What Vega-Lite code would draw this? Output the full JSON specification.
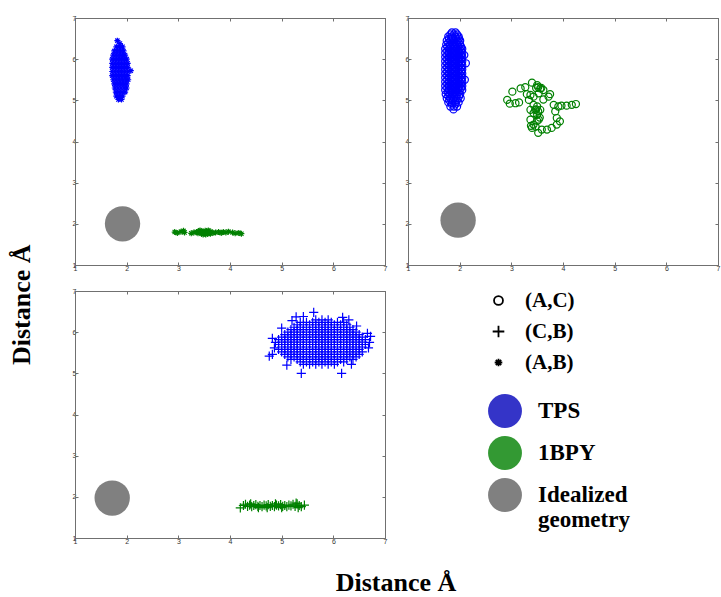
{
"$schema":"https://vega.github.io/schema/vega-lite/v6.json",
"padding":{"left":8,"top":13,"right":0,"bottom":0},
"background":"white",
"title":{"text":"Distance Å","orient":"left","anchor":"middle","font":"Liberation Serif","fontSize":26,"fontWeight":"bold","color":"black","offset":37},
"data":{"values":[
{"p":"(A,B)","g":"Ideal","x":1.92,"y":2.0},
{"p":"(A,C)","g":"Ideal","x":1.97,"y":2.09},
{"p":"(C,B)","g":"Ideal","x":1.72,"y":1.97},
{"p":"(A,B)","g":"TPS","x":1.82,"y":6.45},{"p":"(A,B)","g":"TPS","x":1.87,"y":6.38},
{"p":"(A,B)","g":"TPS","x":1.80,"y":6.3},{"p":"(A,B)","g":"TPS","x":1.86,"y":6.3},{"p":"(A,B)","g":"TPS","x":1.92,"y":6.3},
{"p":"(A,B)","g":"TPS","x":1.76,"y":6.2},{"p":"(A,B)","g":"TPS","x":1.82,"y":6.2},{"p":"(A,B)","g":"TPS","x":1.88,"y":6.2},{"p":"(A,B)","g":"TPS","x":1.94,"y":6.2},
{"p":"(A,B)","g":"TPS","x":1.74,"y":6.1},{"p":"(A,B)","g":"TPS","x":1.80,"y":6.1},{"p":"(A,B)","g":"TPS","x":1.86,"y":6.1},{"p":"(A,B)","g":"TPS","x":1.92,"y":6.1},{"p":"(A,B)","g":"TPS","x":1.97,"y":6.1},
{"p":"(A,B)","g":"TPS","x":1.72,"y":6.0},{"p":"(A,B)","g":"TPS","x":1.78,"y":6.0},{"p":"(A,B)","g":"TPS","x":1.84,"y":6.0},{"p":"(A,B)","g":"TPS","x":1.90,"y":6.0},{"p":"(A,B)","g":"TPS","x":1.96,"y":6.0},{"p":"(A,B)","g":"TPS","x":2.00,"y":6.0},
{"p":"(A,B)","g":"TPS","x":1.72,"y":5.9},{"p":"(A,B)","g":"TPS","x":1.78,"y":5.9},{"p":"(A,B)","g":"TPS","x":1.84,"y":5.9},{"p":"(A,B)","g":"TPS","x":1.90,"y":5.9},{"p":"(A,B)","g":"TPS","x":1.96,"y":5.9},{"p":"(A,B)","g":"TPS","x":2.02,"y":5.9},
{"p":"(A,B)","g":"TPS","x":1.72,"y":5.8},{"p":"(A,B)","g":"TPS","x":1.78,"y":5.8},{"p":"(A,B)","g":"TPS","x":1.84,"y":5.8},{"p":"(A,B)","g":"TPS","x":1.90,"y":5.8},{"p":"(A,B)","g":"TPS","x":1.96,"y":5.8},{"p":"(A,B)","g":"TPS","x":2.02,"y":5.8},
{"p":"(A,B)","g":"TPS","x":1.72,"y":5.7},{"p":"(A,B)","g":"TPS","x":1.78,"y":5.7},{"p":"(A,B)","g":"TPS","x":1.84,"y":5.7},{"p":"(A,B)","g":"TPS","x":1.90,"y":5.7},{"p":"(A,B)","g":"TPS","x":1.96,"y":5.7},{"p":"(A,B)","g":"TPS","x":2.02,"y":5.7},{"p":"(A,B)","g":"TPS","x":2.08,"y":5.72},
{"p":"(A,B)","g":"TPS","x":1.72,"y":5.6},{"p":"(A,B)","g":"TPS","x":1.78,"y":5.6},{"p":"(A,B)","g":"TPS","x":1.84,"y":5.6},{"p":"(A,B)","g":"TPS","x":1.90,"y":5.6},{"p":"(A,B)","g":"TPS","x":1.96,"y":5.6},{"p":"(A,B)","g":"TPS","x":2.02,"y":5.6},
{"p":"(A,B)","g":"TPS","x":1.74,"y":5.5},{"p":"(A,B)","g":"TPS","x":1.80,"y":5.5},{"p":"(A,B)","g":"TPS","x":1.86,"y":5.5},{"p":"(A,B)","g":"TPS","x":1.92,"y":5.5},{"p":"(A,B)","g":"TPS","x":1.98,"y":5.5},{"p":"(A,B)","g":"TPS","x":2.03,"y":5.5},
{"p":"(A,B)","g":"TPS","x":1.76,"y":5.4},{"p":"(A,B)","g":"TPS","x":1.82,"y":5.4},{"p":"(A,B)","g":"TPS","x":1.88,"y":5.4},{"p":"(A,B)","g":"TPS","x":1.94,"y":5.4},{"p":"(A,B)","g":"TPS","x":2.00,"y":5.4},
{"p":"(A,B)","g":"TPS","x":1.77,"y":5.3},{"p":"(A,B)","g":"TPS","x":1.83,"y":5.3},{"p":"(A,B)","g":"TPS","x":1.89,"y":5.3},{"p":"(A,B)","g":"TPS","x":1.95,"y":5.3},{"p":"(A,B)","g":"TPS","x":2.00,"y":5.3},
{"p":"(A,B)","g":"TPS","x":1.79,"y":5.2},{"p":"(A,B)","g":"TPS","x":1.85,"y":5.2},{"p":"(A,B)","g":"TPS","x":1.91,"y":5.2},{"p":"(A,B)","g":"TPS","x":1.97,"y":5.2},
{"p":"(A,B)","g":"TPS","x":1.80,"y":5.1},{"p":"(A,B)","g":"TPS","x":1.86,"y":5.1},{"p":"(A,B)","g":"TPS","x":1.92,"y":5.1},
{"p":"(A,B)","g":"TPS","x":1.84,"y":5.02},{"p":"(A,B)","g":"TPS","x":1.90,"y":5.02},
{"p":"(A,B)","g":"1BPY","x":2.93,"y":1.80},{"p":"(A,B)","g":"1BPY","x":2.98,"y":1.78},{"p":"(A,B)","g":"1BPY","x":3.05,"y":1.81},{"p":"(A,B)","g":"1BPY","x":3.10,"y":1.83},{"p":"(A,B)","g":"1BPY","x":3.12,"y":1.79},
{"p":"(A,B)","g":"1BPY","x":3.25,"y":1.77},{"p":"(A,B)","g":"1BPY","x":3.30,"y":1.79},{"p":"(A,B)","g":"1BPY","x":3.35,"y":1.80},{"p":"(A,B)","g":"1BPY","x":3.38,"y":1.77},{"p":"(A,B)","g":"1BPY","x":3.40,"y":1.82},
{"p":"(A,B)","g":"1BPY","x":3.43,"y":1.79},{"p":"(A,B)","g":"1BPY","x":3.45,"y":1.76},{"p":"(A,B)","g":"1BPY","x":3.47,"y":1.81},{"p":"(A,B)","g":"1BPY","x":3.50,"y":1.78},{"p":"(A,B)","g":"1BPY","x":3.52,"y":1.83},
{"p":"(A,B)","g":"1BPY","x":3.55,"y":1.80},{"p":"(A,B)","g":"1BPY","x":3.57,"y":1.76},{"p":"(A,B)","g":"1BPY","x":3.60,"y":1.79},{"p":"(A,B)","g":"1BPY","x":3.63,"y":1.81},{"p":"(A,B)","g":"1BPY","x":3.67,"y":1.78},
{"p":"(A,B)","g":"1BPY","x":3.72,"y":1.79},{"p":"(A,B)","g":"1BPY","x":3.78,"y":1.80},{"p":"(A,B)","g":"1BPY","x":3.83,"y":1.78},{"p":"(A,B)","g":"1BPY","x":3.87,"y":1.80},{"p":"(A,B)","g":"1BPY","x":3.92,"y":1.79},
{"p":"(A,B)","g":"1BPY","x":3.97,"y":1.81},{"p":"(A,B)","g":"1BPY","x":4.05,"y":1.79},{"p":"(A,B)","g":"1BPY","x":4.10,"y":1.77},{"p":"(A,B)","g":"1BPY","x":4.17,"y":1.78},{"p":"(A,B)","g":"1BPY","x":4.22,"y":1.76},
{"p":"(A,B)","g":"1BPY","x":3.48,"y":1.74},{"p":"(A,B)","g":"1BPY","x":3.53,"y":1.74},{"p":"(A,B)","g":"1BPY","x":3.42,"y":1.84},{"p":"(A,B)","g":"1BPY","x":3.58,"y":1.84},{"p":"(A,B)","g":"1BPY","x":3.62,"y":1.76},
{"p":"(A,C)","g":"TPS","x":1.85,"y":6.65},{"p":"(A,C)","g":"TPS","x":1.92,"y":6.65},
{"p":"(A,C)","g":"TPS","x":1.78,"y":6.55},{"p":"(A,C)","g":"TPS","x":1.85,"y":6.55},{"p":"(A,C)","g":"TPS","x":1.92,"y":6.55},{"p":"(A,C)","g":"TPS","x":1.98,"y":6.55},
{"p":"(A,C)","g":"TPS","x":1.75,"y":6.45},{"p":"(A,C)","g":"TPS","x":1.82,"y":6.45},{"p":"(A,C)","g":"TPS","x":1.89,"y":6.45},{"p":"(A,C)","g":"TPS","x":1.96,"y":6.45},{"p":"(A,C)","g":"TPS","x":2.01,"y":6.45},
{"p":"(A,C)","g":"TPS","x":1.74,"y":6.35},{"p":"(A,C)","g":"TPS","x":1.81,"y":6.35},{"p":"(A,C)","g":"TPS","x":1.88,"y":6.35},{"p":"(A,C)","g":"TPS","x":1.95,"y":6.35},{"p":"(A,C)","g":"TPS","x":2.01,"y":6.35},
{"p":"(A,C)","g":"TPS","x":1.72,"y":6.25},{"p":"(A,C)","g":"TPS","x":1.79,"y":6.25},{"p":"(A,C)","g":"TPS","x":1.86,"y":6.25},{"p":"(A,C)","g":"TPS","x":1.93,"y":6.25},{"p":"(A,C)","g":"TPS","x":2.00,"y":6.25},{"p":"(A,C)","g":"TPS","x":2.05,"y":6.25},
{"p":"(A,C)","g":"TPS","x":1.72,"y":6.15},{"p":"(A,C)","g":"TPS","x":1.79,"y":6.15},{"p":"(A,C)","g":"TPS","x":1.86,"y":6.15},{"p":"(A,C)","g":"TPS","x":1.93,"y":6.15},{"p":"(A,C)","g":"TPS","x":2.00,"y":6.15},{"p":"(A,C)","g":"TPS","x":2.05,"y":6.15},
{"p":"(A,C)","g":"TPS","x":1.72,"y":6.05},{"p":"(A,C)","g":"TPS","x":1.79,"y":6.05},{"p":"(A,C)","g":"TPS","x":1.86,"y":6.05},{"p":"(A,C)","g":"TPS","x":1.93,"y":6.05},{"p":"(A,C)","g":"TPS","x":2.00,"y":6.05},{"p":"(A,C)","g":"TPS","x":2.05,"y":6.05},
{"p":"(A,C)","g":"TPS","x":1.72,"y":5.95},{"p":"(A,C)","g":"TPS","x":1.79,"y":5.95},{"p":"(A,C)","g":"TPS","x":1.86,"y":5.95},{"p":"(A,C)","g":"TPS","x":1.93,"y":5.95},{"p":"(A,C)","g":"TPS","x":2.00,"y":5.95},{"p":"(A,C)","g":"TPS","x":2.05,"y":5.95},
{"p":"(A,C)","g":"TPS","x":1.72,"y":5.85},{"p":"(A,C)","g":"TPS","x":1.79,"y":5.85},{"p":"(A,C)","g":"TPS","x":1.86,"y":5.85},{"p":"(A,C)","g":"TPS","x":1.93,"y":5.85},{"p":"(A,C)","g":"TPS","x":2.00,"y":5.85},{"p":"(A,C)","g":"TPS","x":2.05,"y":5.85},
{"p":"(A,C)","g":"TPS","x":1.72,"y":5.75},{"p":"(A,C)","g":"TPS","x":1.79,"y":5.75},{"p":"(A,C)","g":"TPS","x":1.86,"y":5.75},{"p":"(A,C)","g":"TPS","x":1.93,"y":5.75},{"p":"(A,C)","g":"TPS","x":2.00,"y":5.75},{"p":"(A,C)","g":"TPS","x":2.05,"y":5.75},
{"p":"(A,C)","g":"TPS","x":1.72,"y":5.65},{"p":"(A,C)","g":"TPS","x":1.79,"y":5.65},{"p":"(A,C)","g":"TPS","x":1.86,"y":5.65},{"p":"(A,C)","g":"TPS","x":1.93,"y":5.65},{"p":"(A,C)","g":"TPS","x":2.00,"y":5.65},{"p":"(A,C)","g":"TPS","x":2.05,"y":5.65},
{"p":"(A,C)","g":"TPS","x":1.72,"y":5.55},{"p":"(A,C)","g":"TPS","x":1.79,"y":5.55},{"p":"(A,C)","g":"TPS","x":1.86,"y":5.55},{"p":"(A,C)","g":"TPS","x":1.93,"y":5.55},{"p":"(A,C)","g":"TPS","x":2.00,"y":5.55},{"p":"(A,C)","g":"TPS","x":2.05,"y":5.55},
{"p":"(A,C)","g":"TPS","x":1.72,"y":5.45},{"p":"(A,C)","g":"TPS","x":1.79,"y":5.45},{"p":"(A,C)","g":"TPS","x":1.86,"y":5.45},{"p":"(A,C)","g":"TPS","x":1.93,"y":5.45},{"p":"(A,C)","g":"TPS","x":2.00,"y":5.45},{"p":"(A,C)","g":"TPS","x":2.05,"y":5.45},
{"p":"(A,C)","g":"TPS","x":1.72,"y":5.35},{"p":"(A,C)","g":"TPS","x":1.79,"y":5.35},{"p":"(A,C)","g":"TPS","x":1.86,"y":5.35},{"p":"(A,C)","g":"TPS","x":1.93,"y":5.35},{"p":"(A,C)","g":"TPS","x":2.00,"y":5.35},{"p":"(A,C)","g":"TPS","x":2.05,"y":5.35},
{"p":"(A,C)","g":"TPS","x":1.72,"y":5.25},{"p":"(A,C)","g":"TPS","x":1.79,"y":5.25},{"p":"(A,C)","g":"TPS","x":1.86,"y":5.25},{"p":"(A,C)","g":"TPS","x":1.93,"y":5.25},{"p":"(A,C)","g":"TPS","x":2.00,"y":5.25},{"p":"(A,C)","g":"TPS","x":2.05,"y":5.25},
{"p":"(A,C)","g":"TPS","x":1.73,"y":5.15},{"p":"(A,C)","g":"TPS","x":1.80,"y":5.15},{"p":"(A,C)","g":"TPS","x":1.87,"y":5.15},{"p":"(A,C)","g":"TPS","x":1.94,"y":5.15},{"p":"(A,C)","g":"TPS","x":2.01,"y":5.15},
{"p":"(A,C)","g":"TPS","x":1.75,"y":5.05},{"p":"(A,C)","g":"TPS","x":1.82,"y":5.05},{"p":"(A,C)","g":"TPS","x":1.89,"y":5.05},{"p":"(A,C)","g":"TPS","x":1.96,"y":5.05},{"p":"(A,C)","g":"TPS","x":2.02,"y":5.05},
{"p":"(A,C)","g":"TPS","x":1.78,"y":4.95},{"p":"(A,C)","g":"TPS","x":1.85,"y":4.95},{"p":"(A,C)","g":"TPS","x":1.92,"y":4.95},{"p":"(A,C)","g":"TPS","x":1.98,"y":4.95},
{"p":"(A,C)","g":"TPS","x":1.82,"y":4.85},{"p":"(A,C)","g":"TPS","x":1.89,"y":4.85},{"p":"(A,C)","g":"TPS","x":1.95,"y":4.85},
{"p":"(A,C)","g":"TPS","x":1.88,"y":4.78},{"p":"(A,C)","g":"TPS","x":2.10,"y":5.5},{"p":"(A,C)","g":"TPS","x":2.12,"y":5.9},{"p":"(A,C)","g":"TPS","x":2.09,"y":6.1},
{"p":"(A,C)","g":"TPS","x":1.82,"y":6.6},{"p":"(A,C)","g":"TPS","x":1.89,"y":6.6},{"p":"(A,C)","g":"TPS","x":1.95,"y":6.6},
{"p":"(A,C)","g":"TPS","x":1.79,"y":6.5},{"p":"(A,C)","g":"TPS","x":1.86,"y":6.5},{"p":"(A,C)","g":"TPS","x":1.93,"y":6.5},{"p":"(A,C)","g":"TPS","x":1.99,"y":6.5},
{"p":"(A,C)","g":"TPS","x":1.78,"y":6.4},{"p":"(A,C)","g":"TPS","x":1.85,"y":6.4},{"p":"(A,C)","g":"TPS","x":1.92,"y":6.4},{"p":"(A,C)","g":"TPS","x":1.98,"y":6.4},
{"p":"(A,C)","g":"TPS","x":1.76,"y":6.3},{"p":"(A,C)","g":"TPS","x":1.83,"y":6.3},{"p":"(A,C)","g":"TPS","x":1.90,"y":6.3},{"p":"(A,C)","g":"TPS","x":1.97,"y":6.3},{"p":"(A,C)","g":"TPS","x":2.03,"y":6.3},
{"p":"(A,C)","g":"TPS","x":1.76,"y":6.2},{"p":"(A,C)","g":"TPS","x":1.83,"y":6.2},{"p":"(A,C)","g":"TPS","x":1.90,"y":6.2},{"p":"(A,C)","g":"TPS","x":1.97,"y":6.2},{"p":"(A,C)","g":"TPS","x":2.03,"y":6.2},
{"p":"(A,C)","g":"TPS","x":1.76,"y":6.1},{"p":"(A,C)","g":"TPS","x":1.83,"y":6.1},{"p":"(A,C)","g":"TPS","x":1.90,"y":6.1},{"p":"(A,C)","g":"TPS","x":1.97,"y":6.1},{"p":"(A,C)","g":"TPS","x":2.03,"y":6.1},
{"p":"(A,C)","g":"TPS","x":1.76,"y":6.0},{"p":"(A,C)","g":"TPS","x":1.83,"y":6.0},{"p":"(A,C)","g":"TPS","x":1.90,"y":6.0},{"p":"(A,C)","g":"TPS","x":1.97,"y":6.0},{"p":"(A,C)","g":"TPS","x":2.03,"y":6.0},
{"p":"(A,C)","g":"TPS","x":1.76,"y":5.9},{"p":"(A,C)","g":"TPS","x":1.83,"y":5.9},{"p":"(A,C)","g":"TPS","x":1.90,"y":5.9},{"p":"(A,C)","g":"TPS","x":1.97,"y":5.9},{"p":"(A,C)","g":"TPS","x":2.03,"y":5.9},
{"p":"(A,C)","g":"TPS","x":1.76,"y":5.8},{"p":"(A,C)","g":"TPS","x":1.83,"y":5.8},{"p":"(A,C)","g":"TPS","x":1.90,"y":5.8},{"p":"(A,C)","g":"TPS","x":1.97,"y":5.8},{"p":"(A,C)","g":"TPS","x":2.03,"y":5.8},
{"p":"(A,C)","g":"TPS","x":1.76,"y":5.7},{"p":"(A,C)","g":"TPS","x":1.83,"y":5.7},{"p":"(A,C)","g":"TPS","x":1.90,"y":5.7},{"p":"(A,C)","g":"TPS","x":1.97,"y":5.7},{"p":"(A,C)","g":"TPS","x":2.03,"y":5.7},
{"p":"(A,C)","g":"TPS","x":1.76,"y":5.6},{"p":"(A,C)","g":"TPS","x":1.83,"y":5.6},{"p":"(A,C)","g":"TPS","x":1.90,"y":5.6},{"p":"(A,C)","g":"TPS","x":1.97,"y":5.6},{"p":"(A,C)","g":"TPS","x":2.03,"y":5.6},
{"p":"(A,C)","g":"TPS","x":1.76,"y":5.5},{"p":"(A,C)","g":"TPS","x":1.83,"y":5.5},{"p":"(A,C)","g":"TPS","x":1.90,"y":5.5},{"p":"(A,C)","g":"TPS","x":1.97,"y":5.5},{"p":"(A,C)","g":"TPS","x":2.03,"y":5.5},
{"p":"(A,C)","g":"TPS","x":1.76,"y":5.4},{"p":"(A,C)","g":"TPS","x":1.83,"y":5.4},{"p":"(A,C)","g":"TPS","x":1.90,"y":5.4},{"p":"(A,C)","g":"TPS","x":1.97,"y":5.4},{"p":"(A,C)","g":"TPS","x":2.03,"y":5.4},
{"p":"(A,C)","g":"TPS","x":1.76,"y":5.3},{"p":"(A,C)","g":"TPS","x":1.83,"y":5.3},{"p":"(A,C)","g":"TPS","x":1.90,"y":5.3},{"p":"(A,C)","g":"TPS","x":1.97,"y":5.3},{"p":"(A,C)","g":"TPS","x":2.03,"y":5.3},
{"p":"(A,C)","g":"TPS","x":1.77,"y":5.2},{"p":"(A,C)","g":"TPS","x":1.84,"y":5.2},{"p":"(A,C)","g":"TPS","x":1.91,"y":5.2},{"p":"(A,C)","g":"TPS","x":1.98,"y":5.2},
{"p":"(A,C)","g":"TPS","x":1.78,"y":5.1},{"p":"(A,C)","g":"TPS","x":1.85,"y":5.1},{"p":"(A,C)","g":"TPS","x":1.92,"y":5.1},{"p":"(A,C)","g":"TPS","x":1.99,"y":5.1},
{"p":"(A,C)","g":"TPS","x":1.80,"y":5.0},{"p":"(A,C)","g":"TPS","x":1.87,"y":5.0},{"p":"(A,C)","g":"TPS","x":1.94,"y":5.0},
{"p":"(A,C)","g":"TPS","x":1.85,"y":4.9},{"p":"(A,C)","g":"TPS","x":1.92,"y":4.9},
{"p":"(A,C)","g":"1BPY","x":2.92,"y":5.01},{"p":"(A,C)","g":"1BPY","x":2.97,"y":4.92},{"p":"(A,C)","g":"1BPY","x":3.02,"y":5.21},{"p":"(A,C)","g":"1BPY","x":3.08,"y":4.93},{"p":"(A,C)","g":"1BPY","x":3.15,"y":4.95},
{"p":"(A,C)","g":"1BPY","x":3.18,"y":5.29},{"p":"(A,C)","g":"1BPY","x":3.27,"y":5.32},{"p":"(A,C)","g":"1BPY","x":3.40,"y":5.43},{"p":"(A,C)","g":"1BPY","x":3.50,"y":5.37},{"p":"(A,C)","g":"1BPY","x":3.56,"y":5.29},
{"p":"(A,C)","g":"1BPY","x":3.62,"y":5.25},{"p":"(A,C)","g":"1BPY","x":3.48,"y":5.30},{"p":"(A,C)","g":"1BPY","x":3.52,"y":5.32},{"p":"(A,C)","g":"1BPY","x":3.58,"y":5.30},{"p":"(A,C)","g":"1BPY","x":3.53,"y":5.17},
{"p":"(A,C)","g":"1BPY","x":3.43,"y":5.09},{"p":"(A,C)","g":"1BPY","x":3.37,"y":5.13},{"p":"(A,C)","g":"1BPY","x":3.34,"y":5.01},{"p":"(A,C)","g":"1BPY","x":3.43,"y":4.89},{"p":"(A,C)","g":"1BPY","x":3.50,"y":4.85},
{"p":"(A,C)","g":"1BPY","x":3.46,"y":4.77},{"p":"(A,C)","g":"1BPY","x":3.37,"y":4.77},{"p":"(A,C)","g":"1BPY","x":3.56,"y":4.77},{"p":"(A,C)","g":"1BPY","x":3.48,"y":4.78},{"p":"(A,C)","g":"1BPY","x":3.52,"y":4.73},
{"p":"(A,C)","g":"1BPY","x":3.50,"y":4.65},{"p":"(A,C)","g":"1BPY","x":3.43,"y":4.69},{"p":"(A,C)","g":"1BPY","x":3.37,"y":4.53},{"p":"(A,C)","g":"1BPY","x":3.53,"y":4.53},{"p":"(A,C)","g":"1BPY","x":3.50,"y":4.50},
{"p":"(A,C)","g":"1BPY","x":3.55,"y":4.58},{"p":"(A,C)","g":"1BPY","x":3.43,"y":4.41},{"p":"(A,C)","g":"1BPY","x":3.40,"y":4.33},{"p":"(A,C)","g":"1BPY","x":3.38,"y":4.38},{"p":"(A,C)","g":"1BPY","x":3.47,"y":4.36},
{"p":"(A,C)","g":"1BPY","x":3.52,"y":4.21},{"p":"(A,C)","g":"1BPY","x":3.59,"y":4.29},{"p":"(A,C)","g":"1BPY","x":3.69,"y":4.29},{"p":"(A,C)","g":"1BPY","x":3.78,"y":4.33},{"p":"(A,C)","g":"1BPY","x":3.88,"y":4.41},
{"p":"(A,C)","g":"1BPY","x":3.94,"y":4.49},{"p":"(A,C)","g":"1BPY","x":3.88,"y":4.57},{"p":"(A,C)","g":"1BPY","x":3.85,"y":4.73},{"p":"(A,C)","g":"1BPY","x":3.82,"y":4.89},{"p":"(A,C)","g":"1BPY","x":3.91,"y":4.85},
{"p":"(A,C)","g":"1BPY","x":3.97,"y":4.87},{"p":"(A,C)","g":"1BPY","x":4.07,"y":4.87},{"p":"(A,C)","g":"1BPY","x":4.17,"y":4.89},{"p":"(A,C)","g":"1BPY","x":4.25,"y":4.91},{"p":"(A,C)","g":"1BPY","x":3.72,"y":5.09},
{"p":"(A,C)","g":"1BPY","x":3.75,"y":5.15},{"p":"(A,C)","g":"1BPY","x":3.30,"y":5.15},{"p":"(A,C)","g":"1BPY","x":3.62,"y":5.02},
{"p":"(C,B)","g":"TPS","x":5.42,"y":5.22},{"p":"(C,B)","g":"TPS","x":5.54,"y":5.22},{"p":"(C,B)","g":"TPS","x":5.66,"y":5.22},{"p":"(C,B)","g":"TPS","x":5.78,"y":5.22},{"p":"(C,B)","g":"TPS","x":5.90,"y":5.22},{"p":"(C,B)","g":"TPS","x":6.02,"y":5.22},
{"p":"(C,B)","g":"TPS","x":5.36,"y":5.28},{"p":"(C,B)","g":"TPS","x":5.48,"y":5.28},{"p":"(C,B)","g":"TPS","x":5.60,"y":5.28},{"p":"(C,B)","g":"TPS","x":5.72,"y":5.28},{"p":"(C,B)","g":"TPS","x":5.84,"y":5.28},{"p":"(C,B)","g":"TPS","x":5.96,"y":5.28},{"p":"(C,B)","g":"TPS","x":6.08,"y":5.28},{"p":"(C,B)","g":"TPS","x":6.20,"y":5.28},
{"p":"(C,B)","g":"TPS","x":5.18,"y":5.34},{"p":"(C,B)","g":"TPS","x":5.30,"y":5.34},{"p":"(C,B)","g":"TPS","x":5.42,"y":5.34},{"p":"(C,B)","g":"TPS","x":5.54,"y":5.34},{"p":"(C,B)","g":"TPS","x":5.66,"y":5.34},{"p":"(C,B)","g":"TPS","x":5.78,"y":5.34},{"p":"(C,B)","g":"TPS","x":5.90,"y":5.34},{"p":"(C,B)","g":"TPS","x":6.02,"y":5.34},{"p":"(C,B)","g":"TPS","x":6.14,"y":5.34},{"p":"(C,B)","g":"TPS","x":6.26,"y":5.34},{"p":"(C,B)","g":"TPS","x":6.38,"y":5.34},
{"p":"(C,B)","g":"TPS","x":5.12,"y":5.40},{"p":"(C,B)","g":"TPS","x":5.24,"y":5.40},{"p":"(C,B)","g":"TPS","x":5.36,"y":5.40},{"p":"(C,B)","g":"TPS","x":5.48,"y":5.40},{"p":"(C,B)","g":"TPS","x":5.60,"y":5.40},{"p":"(C,B)","g":"TPS","x":5.72,"y":5.40},{"p":"(C,B)","g":"TPS","x":5.84,"y":5.40},{"p":"(C,B)","g":"TPS","x":5.96,"y":5.40},{"p":"(C,B)","g":"TPS","x":6.08,"y":5.40},{"p":"(C,B)","g":"TPS","x":6.20,"y":5.40},{"p":"(C,B)","g":"TPS","x":6.32,"y":5.40},{"p":"(C,B)","g":"TPS","x":6.44,"y":5.40},
{"p":"(C,B)","g":"TPS","x":5.06,"y":5.46},{"p":"(C,B)","g":"TPS","x":5.18,"y":5.46},{"p":"(C,B)","g":"TPS","x":5.30,"y":5.46},{"p":"(C,B)","g":"TPS","x":5.42,"y":5.46},{"p":"(C,B)","g":"TPS","x":5.54,"y":5.46},{"p":"(C,B)","g":"TPS","x":5.66,"y":5.46},{"p":"(C,B)","g":"TPS","x":5.78,"y":5.46},{"p":"(C,B)","g":"TPS","x":5.90,"y":5.46},{"p":"(C,B)","g":"TPS","x":6.02,"y":5.46},{"p":"(C,B)","g":"TPS","x":6.14,"y":5.46},{"p":"(C,B)","g":"TPS","x":6.26,"y":5.46},{"p":"(C,B)","g":"TPS","x":6.38,"y":5.46},{"p":"(C,B)","g":"TPS","x":6.50,"y":5.46},
{"p":"(C,B)","g":"TPS","x":5.00,"y":5.52},{"p":"(C,B)","g":"TPS","x":5.12,"y":5.52},{"p":"(C,B)","g":"TPS","x":5.24,"y":5.52},{"p":"(C,B)","g":"TPS","x":5.36,"y":5.52},{"p":"(C,B)","g":"TPS","x":5.48,"y":5.52},{"p":"(C,B)","g":"TPS","x":5.60,"y":5.52},{"p":"(C,B)","g":"TPS","x":5.72,"y":5.52},{"p":"(C,B)","g":"TPS","x":5.84,"y":5.52},{"p":"(C,B)","g":"TPS","x":5.96,"y":5.52},{"p":"(C,B)","g":"TPS","x":6.08,"y":5.52},{"p":"(C,B)","g":"TPS","x":6.20,"y":5.52},{"p":"(C,B)","g":"TPS","x":6.32,"y":5.52},{"p":"(C,B)","g":"TPS","x":6.44,"y":5.52},{"p":"(C,B)","g":"TPS","x":6.56,"y":5.52},
{"p":"(C,B)","g":"TPS","x":4.94,"y":5.58},{"p":"(C,B)","g":"TPS","x":5.06,"y":5.58},{"p":"(C,B)","g":"TPS","x":5.18,"y":5.58},{"p":"(C,B)","g":"TPS","x":5.30,"y":5.58},{"p":"(C,B)","g":"TPS","x":5.42,"y":5.58},{"p":"(C,B)","g":"TPS","x":5.54,"y":5.58},{"p":"(C,B)","g":"TPS","x":5.66,"y":5.58},{"p":"(C,B)","g":"TPS","x":5.78,"y":5.58},{"p":"(C,B)","g":"TPS","x":5.90,"y":5.58},{"p":"(C,B)","g":"TPS","x":6.02,"y":5.58},{"p":"(C,B)","g":"TPS","x":6.14,"y":5.58},{"p":"(C,B)","g":"TPS","x":6.26,"y":5.58},{"p":"(C,B)","g":"TPS","x":6.38,"y":5.58},{"p":"(C,B)","g":"TPS","x":6.50,"y":5.58},
{"p":"(C,B)","g":"TPS","x":5.00,"y":5.64},{"p":"(C,B)","g":"TPS","x":5.12,"y":5.64},{"p":"(C,B)","g":"TPS","x":5.24,"y":5.64},{"p":"(C,B)","g":"TPS","x":5.36,"y":5.64},{"p":"(C,B)","g":"TPS","x":5.48,"y":5.64},{"p":"(C,B)","g":"TPS","x":5.60,"y":5.64},{"p":"(C,B)","g":"TPS","x":5.72,"y":5.64},{"p":"(C,B)","g":"TPS","x":5.84,"y":5.64},{"p":"(C,B)","g":"TPS","x":5.96,"y":5.64},{"p":"(C,B)","g":"TPS","x":6.08,"y":5.64},{"p":"(C,B)","g":"TPS","x":6.20,"y":5.64},{"p":"(C,B)","g":"TPS","x":6.32,"y":5.64},{"p":"(C,B)","g":"TPS","x":6.44,"y":5.64},{"p":"(C,B)","g":"TPS","x":6.56,"y":5.64},
{"p":"(C,B)","g":"TPS","x":4.94,"y":5.70},{"p":"(C,B)","g":"TPS","x":5.06,"y":5.70},{"p":"(C,B)","g":"TPS","x":5.18,"y":5.70},{"p":"(C,B)","g":"TPS","x":5.30,"y":5.70},{"p":"(C,B)","g":"TPS","x":5.42,"y":5.70},{"p":"(C,B)","g":"TPS","x":5.54,"y":5.70},{"p":"(C,B)","g":"TPS","x":5.66,"y":5.70},{"p":"(C,B)","g":"TPS","x":5.78,"y":5.70},{"p":"(C,B)","g":"TPS","x":5.90,"y":5.70},{"p":"(C,B)","g":"TPS","x":6.02,"y":5.70},{"p":"(C,B)","g":"TPS","x":6.14,"y":5.70},{"p":"(C,B)","g":"TPS","x":6.26,"y":5.70},{"p":"(C,B)","g":"TPS","x":6.38,"y":5.70},{"p":"(C,B)","g":"TPS","x":6.50,"y":5.70},{"p":"(C,B)","g":"TPS","x":6.62,"y":5.70},
{"p":"(C,B)","g":"TPS","x":5.00,"y":5.76},{"p":"(C,B)","g":"TPS","x":5.12,"y":5.76},{"p":"(C,B)","g":"TPS","x":5.24,"y":5.76},{"p":"(C,B)","g":"TPS","x":5.36,"y":5.76},{"p":"(C,B)","g":"TPS","x":5.48,"y":5.76},{"p":"(C,B)","g":"TPS","x":5.60,"y":5.76},{"p":"(C,B)","g":"TPS","x":5.72,"y":5.76},{"p":"(C,B)","g":"TPS","x":5.84,"y":5.76},{"p":"(C,B)","g":"TPS","x":5.96,"y":5.76},{"p":"(C,B)","g":"TPS","x":6.08,"y":5.76},{"p":"(C,B)","g":"TPS","x":6.20,"y":5.76},{"p":"(C,B)","g":"TPS","x":6.32,"y":5.76},{"p":"(C,B)","g":"TPS","x":6.44,"y":5.76},{"p":"(C,B)","g":"TPS","x":6.56,"y":5.76},
{"p":"(C,B)","g":"TPS","x":4.94,"y":5.82},{"p":"(C,B)","g":"TPS","x":5.06,"y":5.82},{"p":"(C,B)","g":"TPS","x":5.18,"y":5.82},{"p":"(C,B)","g":"TPS","x":5.30,"y":5.82},{"p":"(C,B)","g":"TPS","x":5.42,"y":5.82},{"p":"(C,B)","g":"TPS","x":5.54,"y":5.82},{"p":"(C,B)","g":"TPS","x":5.66,"y":5.82},{"p":"(C,B)","g":"TPS","x":5.78,"y":5.82},{"p":"(C,B)","g":"TPS","x":5.90,"y":5.82},{"p":"(C,B)","g":"TPS","x":6.02,"y":5.82},{"p":"(C,B)","g":"TPS","x":6.14,"y":5.82},{"p":"(C,B)","g":"TPS","x":6.26,"y":5.82},{"p":"(C,B)","g":"TPS","x":6.38,"y":5.82},{"p":"(C,B)","g":"TPS","x":6.50,"y":5.82},{"p":"(C,B)","g":"TPS","x":6.62,"y":5.82},
{"p":"(C,B)","g":"TPS","x":5.00,"y":5.88},{"p":"(C,B)","g":"TPS","x":5.12,"y":5.88},{"p":"(C,B)","g":"TPS","x":5.24,"y":5.88},{"p":"(C,B)","g":"TPS","x":5.36,"y":5.88},{"p":"(C,B)","g":"TPS","x":5.48,"y":5.88},{"p":"(C,B)","g":"TPS","x":5.60,"y":5.88},{"p":"(C,B)","g":"TPS","x":5.72,"y":5.88},{"p":"(C,B)","g":"TPS","x":5.84,"y":5.88},{"p":"(C,B)","g":"TPS","x":5.96,"y":5.88},{"p":"(C,B)","g":"TPS","x":6.08,"y":5.88},{"p":"(C,B)","g":"TPS","x":6.20,"y":5.88},{"p":"(C,B)","g":"TPS","x":6.32,"y":5.88},{"p":"(C,B)","g":"TPS","x":6.44,"y":5.88},{"p":"(C,B)","g":"TPS","x":6.56,"y":5.88},
{"p":"(C,B)","g":"TPS","x":5.06,"y":5.94},{"p":"(C,B)","g":"TPS","x":5.18,"y":5.94},{"p":"(C,B)","g":"TPS","x":5.30,"y":5.94},{"p":"(C,B)","g":"TPS","x":5.42,"y":5.94},{"p":"(C,B)","g":"TPS","x":5.54,"y":5.94},{"p":"(C,B)","g":"TPS","x":5.66,"y":5.94},{"p":"(C,B)","g":"TPS","x":5.78,"y":5.94},{"p":"(C,B)","g":"TPS","x":5.90,"y":5.94},{"p":"(C,B)","g":"TPS","x":6.02,"y":5.94},{"p":"(C,B)","g":"TPS","x":6.14,"y":5.94},{"p":"(C,B)","g":"TPS","x":6.26,"y":5.94},{"p":"(C,B)","g":"TPS","x":6.38,"y":5.94},{"p":"(C,B)","g":"TPS","x":6.50,"y":5.94},
{"p":"(C,B)","g":"TPS","x":5.12,"y":6.00},{"p":"(C,B)","g":"TPS","x":5.24,"y":6.00},{"p":"(C,B)","g":"TPS","x":5.36,"y":6.00},{"p":"(C,B)","g":"TPS","x":5.48,"y":6.00},{"p":"(C,B)","g":"TPS","x":5.60,"y":6.00},{"p":"(C,B)","g":"TPS","x":5.72,"y":6.00},{"p":"(C,B)","g":"TPS","x":5.84,"y":6.00},{"p":"(C,B)","g":"TPS","x":5.96,"y":6.00},{"p":"(C,B)","g":"TPS","x":6.08,"y":6.00},{"p":"(C,B)","g":"TPS","x":6.20,"y":6.00},{"p":"(C,B)","g":"TPS","x":6.32,"y":6.00},{"p":"(C,B)","g":"TPS","x":6.44,"y":6.00},
{"p":"(C,B)","g":"TPS","x":5.18,"y":6.06},{"p":"(C,B)","g":"TPS","x":5.30,"y":6.06},{"p":"(C,B)","g":"TPS","x":5.42,"y":6.06},{"p":"(C,B)","g":"TPS","x":5.54,"y":6.06},{"p":"(C,B)","g":"TPS","x":5.66,"y":6.06},{"p":"(C,B)","g":"TPS","x":5.78,"y":6.06},{"p":"(C,B)","g":"TPS","x":5.90,"y":6.06},{"p":"(C,B)","g":"TPS","x":6.02,"y":6.06},{"p":"(C,B)","g":"TPS","x":6.14,"y":6.06},{"p":"(C,B)","g":"TPS","x":6.26,"y":6.06},{"p":"(C,B)","g":"TPS","x":6.38,"y":6.06},
{"p":"(C,B)","g":"TPS","x":5.24,"y":6.12},{"p":"(C,B)","g":"TPS","x":5.36,"y":6.12},{"p":"(C,B)","g":"TPS","x":5.48,"y":6.12},{"p":"(C,B)","g":"TPS","x":5.60,"y":6.12},{"p":"(C,B)","g":"TPS","x":5.72,"y":6.12},{"p":"(C,B)","g":"TPS","x":5.84,"y":6.12},{"p":"(C,B)","g":"TPS","x":5.96,"y":6.12},{"p":"(C,B)","g":"TPS","x":6.08,"y":6.12},{"p":"(C,B)","g":"TPS","x":6.20,"y":6.12},{"p":"(C,B)","g":"TPS","x":6.32,"y":6.12},
{"p":"(C,B)","g":"TPS","x":5.30,"y":6.18},{"p":"(C,B)","g":"TPS","x":5.42,"y":6.18},{"p":"(C,B)","g":"TPS","x":5.54,"y":6.18},{"p":"(C,B)","g":"TPS","x":5.66,"y":6.18},{"p":"(C,B)","g":"TPS","x":5.78,"y":6.18},{"p":"(C,B)","g":"TPS","x":5.90,"y":6.18},{"p":"(C,B)","g":"TPS","x":6.02,"y":6.18},{"p":"(C,B)","g":"TPS","x":6.14,"y":6.18},{"p":"(C,B)","g":"TPS","x":6.26,"y":6.18},
{"p":"(C,B)","g":"TPS","x":5.36,"y":6.24},{"p":"(C,B)","g":"TPS","x":5.48,"y":6.24},{"p":"(C,B)","g":"TPS","x":5.60,"y":6.24},{"p":"(C,B)","g":"TPS","x":5.72,"y":6.24},{"p":"(C,B)","g":"TPS","x":5.84,"y":6.24},{"p":"(C,B)","g":"TPS","x":5.96,"y":6.24},{"p":"(C,B)","g":"TPS","x":6.08,"y":6.24},{"p":"(C,B)","g":"TPS","x":6.20,"y":6.24},
{"p":"(C,B)","g":"TPS","x":5.66,"y":6.30},{"p":"(C,B)","g":"TPS","x":5.78,"y":6.30},{"p":"(C,B)","g":"TPS","x":5.90,"y":6.30},
{"p":"(C,B)","g":"TPS","x":4.76,"y":5.42},{"p":"(C,B)","g":"TPS","x":4.82,"y":5.46},{"p":"(C,B)","g":"TPS","x":4.86,"y":5.62},{"p":"(C,B)","g":"TPS","x":4.82,"y":5.85},{"p":"(C,B)","g":"TPS","x":4.88,"y":5.75},
{"p":"(C,B)","g":"TPS","x":6.72,"y":5.90},{"p":"(C,B)","g":"TPS","x":6.66,"y":5.97},{"p":"(C,B)","g":"TPS","x":6.70,"y":5.75},{"p":"(C,B)","g":"TPS","x":6.68,"y":5.62},{"p":"(C,B)","g":"TPS","x":5.28,"y":6.37},
{"p":"(C,B)","g":"TPS","x":5.42,"y":6.38},{"p":"(C,B)","g":"TPS","x":5.62,"y":6.48},{"p":"(C,B)","g":"TPS","x":6.18,"y":6.36},{"p":"(C,B)","g":"TPS","x":5.38,"y":5.0},{"p":"(C,B)","g":"TPS","x":6.16,"y":5.0},
{"p":"(C,B)","g":"TPS","x":5.10,"y":5.2},{"p":"(C,B)","g":"TPS","x":6.35,"y":5.22},{"p":"(C,B)","g":"TPS","x":5.00,"y":6.1},{"p":"(C,B)","g":"TPS","x":6.45,"y":6.15},{"p":"(C,B)","g":"TPS","x":5.20,"y":6.28},{"p":"(C,B)","g":"TPS","x":6.30,"y":6.3},
{"p":"(C,B)","g":"1BPY","x":4.20,"y":1.73},{"p":"(C,B)","g":"1BPY","x":4.26,"y":1.79},{"p":"(C,B)","g":"1BPY","x":4.30,"y":1.82},{"p":"(C,B)","g":"1BPY","x":4.34,"y":1.77},{"p":"(C,B)","g":"1BPY","x":4.38,"y":1.80},
{"p":"(C,B)","g":"1BPY","x":4.42,"y":1.76},{"p":"(C,B)","g":"1BPY","x":4.46,"y":1.79},{"p":"(C,B)","g":"1BPY","x":4.50,"y":1.81},{"p":"(C,B)","g":"1BPY","x":4.54,"y":1.77},{"p":"(C,B)","g":"1BPY","x":4.58,"y":1.79},
{"p":"(C,B)","g":"1BPY","x":4.62,"y":1.76},{"p":"(C,B)","g":"1BPY","x":4.66,"y":1.80},{"p":"(C,B)","g":"1BPY","x":4.70,"y":1.78},{"p":"(C,B)","g":"1BPY","x":4.74,"y":1.81},{"p":"(C,B)","g":"1BPY","x":4.78,"y":1.77},
{"p":"(C,B)","g":"1BPY","x":4.82,"y":1.79},{"p":"(C,B)","g":"1BPY","x":4.86,"y":1.76},{"p":"(C,B)","g":"1BPY","x":4.90,"y":1.80},{"p":"(C,B)","g":"1BPY","x":4.94,"y":1.78},{"p":"(C,B)","g":"1BPY","x":4.98,"y":1.81},
{"p":"(C,B)","g":"1BPY","x":5.02,"y":1.77},{"p":"(C,B)","g":"1BPY","x":5.06,"y":1.79},{"p":"(C,B)","g":"1BPY","x":5.10,"y":1.76},{"p":"(C,B)","g":"1BPY","x":5.14,"y":1.80},{"p":"(C,B)","g":"1BPY","x":5.18,"y":1.78},
{"p":"(C,B)","g":"1BPY","x":5.22,"y":1.82},{"p":"(C,B)","g":"1BPY","x":5.26,"y":1.77},{"p":"(C,B)","g":"1BPY","x":5.30,"y":1.83},{"p":"(C,B)","g":"1BPY","x":5.34,"y":1.79},{"p":"(C,B)","g":"1BPY","x":5.38,"y":1.76},
{"p":"(C,B)","g":"1BPY","x":5.44,"y":1.80},{"p":"(C,B)","g":"1BPY","x":4.40,"y":1.83},{"p":"(C,B)","g":"1BPY","x":4.55,"y":1.74},{"p":"(C,B)","g":"1BPY","x":4.72,"y":1.74},{"p":"(C,B)","g":"1BPY","x":4.88,"y":1.83},
{"p":"(C,B)","g":"1BPY","x":5.00,"y":1.74},{"p":"(C,B)","g":"1BPY","x":5.28,"y":1.85},{"p":"(C,B)","g":"1BPY","x":5.32,"y":1.74}
]},
"facet":{"field":"p","type":"nominal","sort":["(A,B)","(A,C)","(C,B)"],
  "header":{"title":"Distance Å","titleOrient":"bottom","labels":false,"labelExpr":"''","labelFontSize":0,"labelPadding":0,"titleFont":"Liberation Serif","titleFontSize":26,"titleFontWeight":"bold","titleColor":"black","titlePadding":25}},
"columns":2,
"spacing":{"row":14,"column":16},
"spec":{
  "width":310,"height":247,
  "layer":[
    {"transform":[{"filter":"datum.g == 'Ideal'"}],
     "mark":{"type":"circle","size":1250,"opacity":1},
     "encoding":{
       "x":{"field":"x","type":"quantitative","scale":{"domain":[1,7],"nice":false,"zero":false},"axis":{"orient":"bottom"}},
       "y":{"field":"y","type":"quantitative","scale":{"domain":[1,7],"nice":false,"zero":false},"axis":{"orient":"left"}},
       "fill":{"field":"g","type":"nominal","scale":{"domain":["TPS","1BPY","Ideal"],"range":["#3434c8","#339933","#808080"]},
         "legend":{"orient":"none","legendX":413,"legendY":376,"title":null,"symbolType":"circle","symbolSize":1150,"symbolStrokeWidth":0,"symbolOpacity":1,
           "labelFont":"Liberation Serif","labelFontSize":23,"labelFontWeight":"bold","labelColor":"black","labelOffset":16,"rowPadding":8,
           "labelExpr":"datum.label == 'Ideal' ? ['Idealized','geometry'] : datum.label"}}
     }},
    {"transform":[{"filter":"datum.g != 'Ideal'"}],
     "mark":{"type":"point","filled":false,"strokeWidth":1.2,"size":50,"opacity":1},
     "encoding":{
       "x":{"field":"x","type":"quantitative","axis":{"orient":"top","labels":false}},
       "y":{"field":"y","type":"quantitative","axis":{"orient":"right","labels":false}},
       "stroke":{"field":"g","type":"nominal","scale":{"domain":["TPS","1BPY"],"range":["#0000ff","#008000"]},"legend":null},
       "shape":{"field":"p","type":"nominal","scale":{"domain":["(A,C)","(C,B)","(A,B)"],"range":["circle","M-1.3,0H1.3M0,-1.3V1.3","M-0.85,0H0.85M0,-0.85V0.85M-0.6,-0.6L0.6,0.6M-0.6,0.6L0.6,-0.6"]},
         "legend":{"orient":"none","legendX":413,"legendY":272,"title":null,"symbolStrokeColor":"black","symbolStrokeWidth":1.8,"symbolSize":80,
           "labelFont":"Liberation Serif","labelFontSize":21,"labelFontWeight":"bold","labelColor":"black","labelOffset":16,"rowPadding":9}}
     }}
  ],
  "resolve":{"axis":{"x":"independent","y":"independent"}}
},
"resolve":{"axis":{"x":"independent","y":"independent"}},
"config":{
  "view":{"stroke":"#707070","strokeWidth":1},
  "headerFacet":{"labels":false},
  "axis":{"values":[1,2,3,4,5,6,7],"labelFlush":false,"labelOverlap":false,"grid":false,"title":null,"tickSize":-3,"tickColor":"#707070","domainColor":"#707070","labelFont":"Liberation Sans","labelFontSize":7,"labelColor":"#333333","labelPadding":2}
}
}
